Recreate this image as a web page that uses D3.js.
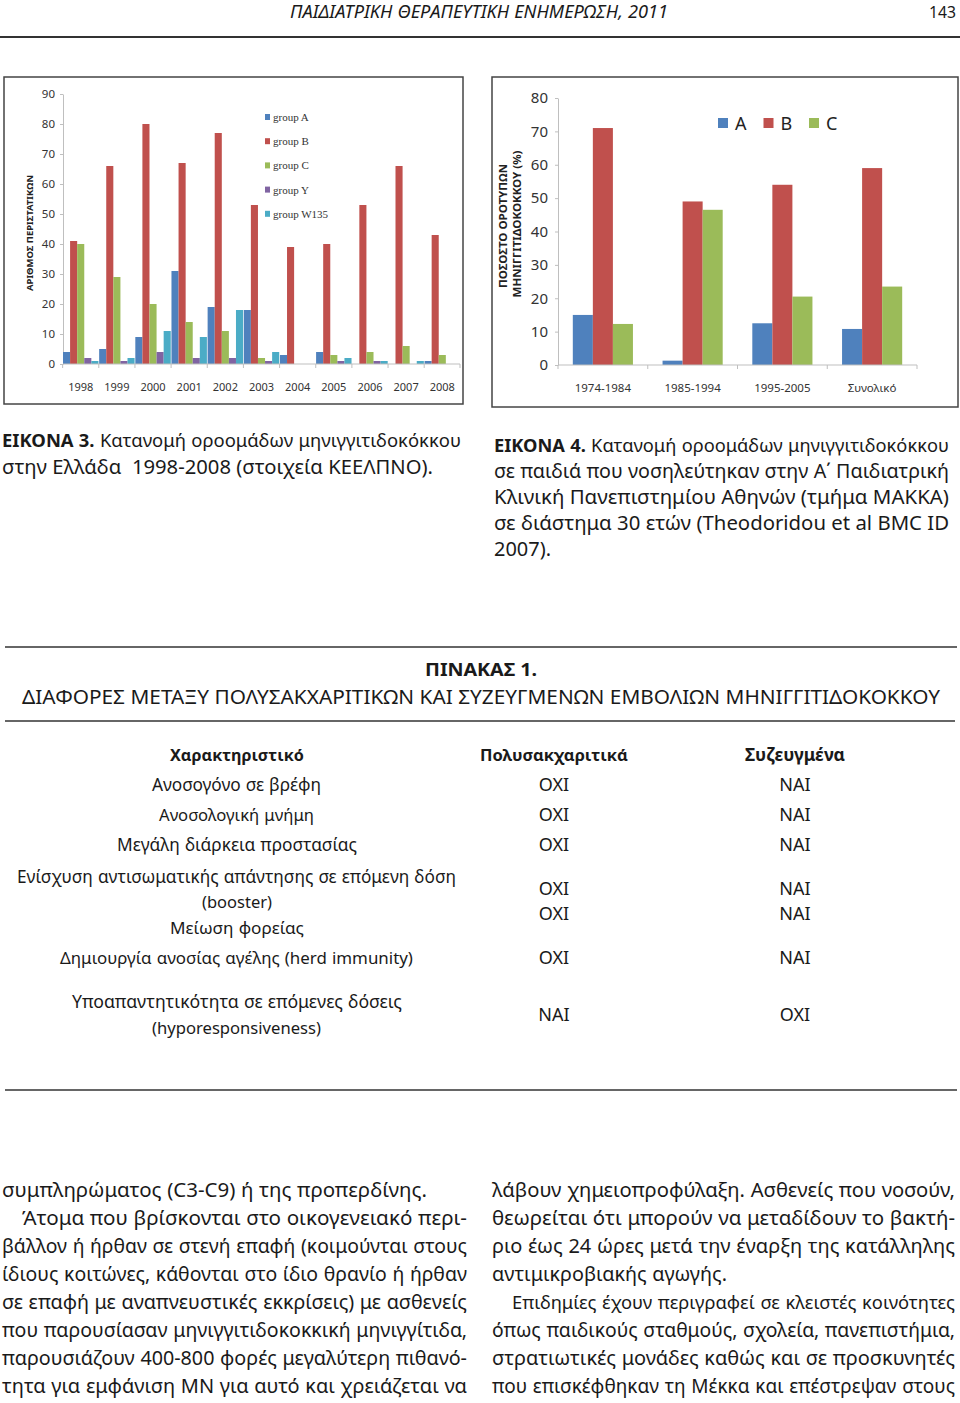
<!DOCTYPE html>
<html>
<head>
<meta charset="utf-8">
<script src="https://cdn.jsdelivr.net/npm/d3@7"></script>
<style>
  body { margin: 0; background: #fff; }
  svg { display: block; font-family: "Noto Sans", sans-serif; }
</style>
</head>
<body>
<script>
// figure 3 data (cases per year, per serogroup)
var years = ["1998", "1999", "2000", "2001", "2002", "2003", "2004", "2005", "2006", "2007", "2008"];
var groups3 = ["group A", "group B", "group C", "group Y", "group W135"];
var groupA = [4, 5, 9, 31, 19, 18, 3, 4, 0, 0, 1];
var groupB = [41, 66, 80, 67, 77, 53, 39, 40, 53, 66, 43];
var groupC = [40, 29, 20, 14, 11, 2, 0, 3, 4, 6, 3];
var groupY = [2, 1, 4, 2, 2, 1, 0, 1, 1, 0, 0];
var groupW = [1, 2, 11, 9, 18, 4, 0, 2, 1, 1, 0];
var ticks3 = [0, 10, 20, 30, 40, 50, 60, 70, 80, 90];

// figure 4 data (% of serogroups per period)
var periods = ["1974-1984", "1985-1994", "1995-2005", "Συνολικό"];
var groups4 = ["A", "B", "C"];
var pctA = [15, 1.3, 12.5, 10.8];
var pctB = [71, 49, 54, 59];
var pctC = [12.3, 46.5, 20.5, 23.5];
var ticks4 = [0, 10, 20, 30, 40, 50, 60, 70, 80];

var colors = ["#4F81BD", "#C0504D", "#9BBB59", "#8064A2", "#4BACC6"];

// table 1
var traits = [
  ["Ανοσογόνο σε βρέφη"],
  ["Ανοσολογική μνήμη"],
  ["Μεγάλη διάρκεια προστασίας"],
  ["Ενίσχυση αντισωματικής απάντησης σε επόμενη δόση", "(booster)"],
  ["Μείωση φορείας"],
  ["Δημιουργία ανοσίας αγέλης (herd immunity)"],
  ["Υποαπαντητικότητα σε επόμενες δόσεις", "(hyporesponsiveness)"]
];
var polysacch = ["ΟΧΙ", "ΟΧΙ", "ΟΧΙ", "ΟΧΙ", "ΟΧΙ", "ΟΧΙ", "ΝΑΙ"];
var conjugate = ["ΝΑΙ", "ΝΑΙ", "ΝΑΙ", "ΝΑΙ", "ΝΑΙ", "ΝΑΙ", "ΟΧΙ"];

var svg = d3.select("body").append("svg")
    .attr("width", 960)
    .attr("height", 1403);

// place a line of words so it spans x0..x1: stretch glyphs a little (or
// shrink the font) and spread the rest over the word gaps, like justified print
function fit(g, str, x0, x1, y, o) {
  o = o || {};
  var size = o.size || 19, nb = o.bold || 0;
  var words = str.split(" ");
  var items = words.map(function(w, i) {
    return g.append("text")
        .attr("y", y)
        .attr("font-size", size)
        .attr("font-weight", (o.weight === "bold" || i < nb) ? "bold" : "normal")
        .attr("font-style", o.italic ? "italic" : null)
        .attr("fill", o.fill || "#1a1a1a")
        .text(w);
  });
  var ws = items.map(function(t) { return t.node().getComputedTextLength(); });
  var n = words.length, total = d3.sum(ws), avail = x1 - x0;
  var gap0 = size * 0.28;
  var k = (avail - gap0 * (n - 1)) / total;
  k = Math.max(0.85, Math.min(o.maxK || 1.1, k));
  var gap = n > 1 ? (avail - total * k) / (n - 1) : 0;
  if (gap < size * 0.2) { gap = size * 0.2; k = (avail - gap * (n - 1)) / total; }
  var x = x0;
  items.forEach(function(t, i) {
    t.attr("x", x);
    if (k < 1) t.attr("font-size", size * k);
    else if (ws[i] > 0 && k > 1.005)
      t.attr("textLength", ws[i] * k).attr("lengthAdjust", "spacingAndGlyphs");
    x += ws[i] * k + gap;
  });
}

function rule(y, x0, x1, w) {
  svg.append("line").attr("x1", x0).attr("x2", x1).attr("y1", y).attr("y2", y)
      .attr("stroke", "#333").attr("stroke-width", w || 1.5);
}

// page header
var head = svg.append("g");
fit(head, "ΠΑΙΔΙΑΤΡΙΚΗ ΘΕΡΑΠΕΥΤΙΚΗ ΕΝΗΜΕΡΩΣΗ, 2011", 290, 668, 18, {size: 18, italic: true});
fit(head, "143", 929, 956, 18, {size: 18});
rule(37, 0, 960, 2);

// ---------- figure 3 ----------
var f3 = svg.append("g");
f3.append("rect").attr("x", 4).attr("y", 77).attr("width", 459).attr("height", 327)
    .attr("fill", "none").attr("stroke", "#444").attr("stroke-width", 1.5);

var series3 = [groupA, groupB, groupC, groupY, groupW];
var x3 = d3.scaleBand().domain(years).range([63, 460]).paddingInner(0.02);
var xs3 = d3.scaleBand().domain(d3.range(groups3.length)).range([0, x3.bandwidth()]);
var y3 = d3.scaleLinear().domain([0, 90]).range([364, 94]);

f3.append("g")
    .attr("transform", "translate(63,0)")
    .call(d3.axisLeft(y3).tickValues(ticks3).tickSize(3).tickSizeOuter(0).tickPadding(5))
    .call(function(g) {
      g.select(".domain").attr("stroke", "#bfbfbf");
      g.selectAll(".tick line").attr("stroke", "#bfbfbf");
      g.selectAll("text").attr("font-size", 11.5).attr("fill", "#333").attr("font-family", "\"Noto Sans\", sans-serif");
    });

years.forEach(function(yr, i) {
  series3.forEach(function(s, j) {
    if (s[i] <= 0) return;
    f3.append("rect")
        .attr("x", x3(yr) + xs3(j))
        .attr("y", y3(s[i]))
        .attr("width", xs3.bandwidth())
        .attr("height", y3(0) - y3(s[i]))
        .attr("fill", colors[j]);
  });
});

f3.append("line").attr("x1", 63).attr("x2", 460).attr("y1", y3(0)).attr("y2", y3(0)).attr("stroke", "#bfbfbf");
years.concat([null]).forEach(function(yr) {
  var xx = yr ? x3(yr) - x3.step() * x3.paddingInner() / 2 : 460;
  f3.append("line").attr("x1", xx).attr("x2", xx).attr("y1", y3(0)).attr("y2", y3(0) + 4).attr("stroke", "#bfbfbf");
});
f3.selectAll(".xl").data(years).enter().append("text")
    .attr("x", function(d) { return x3(d) + x3.bandwidth() / 2; })
    .attr("y", 391)
    .attr("text-anchor", "middle")
    .attr("font-size", 11)
    .attr("fill", "#333")
    .text(function(d) { return d; });

f3.append("text")
    .attr("transform", "translate(33,233) rotate(-90)")
    .attr("text-anchor", "middle")
    .attr("font-size", 9.5).attr("font-weight", "bold").attr("fill", "#222")
    .attr("textLength", 116).attr("lengthAdjust", "spacingAndGlyphs")
    .text("ΑΡΙΘΜΟΣ ΠΕΡΙΣΤΑΤΙΚΩΝ");

var leg3 = f3.selectAll(".leg").data(groups3).enter().append("g")
    .attr("transform", function(d, i) { return "translate(265," + (117 + i * 24.2) + ")"; });
leg3.append("rect").attr("x", 0).attr("y", -3).attr("width", 5).attr("height", 6)
    .attr("fill", function(d, i) { return colors[i]; });
leg3.append("text").attr("x", 8).attr("y", 4).attr("font-size", 11)
    .attr("font-family", "\"Liberation Serif\", serif").attr("fill", "#333")
    .text(function(d) { return d; });

// ---------- figure 4 ----------
var f4 = svg.append("g");
f4.append("rect").attr("x", 492).attr("y", 77).attr("width", 466).attr("height", 330)
    .attr("fill", "none").attr("stroke", "#444").attr("stroke-width", 1.5);

var series4 = [pctA, pctB, pctC];
var x4 = d3.scaleBand().domain(periods).range([558, 917]).paddingInner(0.33).paddingOuter(0.165);
var xs4 = d3.scaleBand().domain(d3.range(groups4.length)).range([0, x4.bandwidth()]);
var y4 = d3.scaleLinear().domain([0, 80]).range([365, 98]);

f4.append("g")
    .attr("transform", "translate(558,0)")
    .call(d3.axisLeft(y4).tickValues(ticks4).tickSize(3).tickSizeOuter(0).tickPadding(7))
    .call(function(g) {
      g.select(".domain").attr("stroke", "#bfbfbf");
      g.selectAll(".tick line").attr("stroke", "#bfbfbf");
      g.selectAll("text").attr("font-size", 15).attr("fill", "#333").attr("font-family", "\"Noto Sans\", sans-serif");
    });

periods.forEach(function(p, i) {
  series4.forEach(function(s, j) {
    f4.append("rect")
        .attr("x", x4(p) + xs4(j))
        .attr("y", y4(s[i]))
        .attr("width", xs4.bandwidth())
        .attr("height", y4(0) - y4(s[i]))
        .attr("fill", colors[j]);
  });
});

f4.append("line").attr("x1", 558).attr("x2", 917).attr("y1", y4(0)).attr("y2", y4(0)).attr("stroke", "#bfbfbf");
d3.range(periods.length + 1).forEach(function(i) {
  var xx = 558 + i * x4.step();
  f4.append("line").attr("x1", xx).attr("x2", xx).attr("y1", y4(0)).attr("y2", y4(0) + 4).attr("stroke", "#bfbfbf");
});
f4.selectAll(".xl").data(periods).enter().append("text")
    .attr("x", function(d) { return x4(d) + x4.bandwidth() / 2; })
    .attr("y", 392)
    .attr("text-anchor", "middle")
    .attr("font-size", 11.5)
    .attr("fill", "#333")
    .text(function(d) { return d; });

f4.append("text")
    .attr("transform", "translate(507,226) rotate(-90)")
    .attr("text-anchor", "middle")
    .attr("font-size", 10.5).attr("font-weight", "bold").attr("fill", "#222")
    .attr("textLength", 124).attr("lengthAdjust", "spacingAndGlyphs")
    .text("ΠΟΣΟΣΤΟ ΟΡΟΤΥΠΩΝ");
f4.append("text")
    .attr("transform", "translate(521,224) rotate(-90)")
    .attr("text-anchor", "middle")
    .attr("font-size", 10.5).attr("font-weight", "bold").attr("fill", "#222")
    .attr("textLength", 147).attr("lengthAdjust", "spacingAndGlyphs")
    .text("ΜΗΝΙΓΓΙΤΙΔΟΚΟΚΚΟΥ (%)");

var leg4 = f4.selectAll(".leg").data(groups4).enter().append("g")
    .attr("transform", function(d, i) { return "translate(" + (718 + i * 45.5) + ",118)"; });
leg4.append("rect").attr("width", 10).attr("height", 10).attr("fill", function(d, i) { return colors[i]; });
leg4.append("text").attr("x", 17).attr("y", 11.5).attr("font-size", 18).attr("fill", "#222")
    .text(function(d) { return d; });

// ---------- captions ----------
var cap = svg.append("g");
fit(cap, "ΕΙΚΟΝΑ 3. Κατανομή οροομάδων μηνιγγιτιδοκόκκου", 2, 461, 447, {bold: 2});
fit(cap, "στην Ελλάδα  1998-2008 (στοιχεία ΚΕΕΛΠΝΟ).", 2, 433, 474);

var cap4 = [
  "ΕΙΚΟΝΑ 4. Κατανομή οροομάδων μηνιγγιτιδοκόκκου",
  "σε παιδιά που νοσηλεύτηκαν στην Α΄ Παιδιατρική",
  "Κλινική Πανεπιστημίου Αθηνών (τμήμα ΜΑΚΚΑ)",
  "σε διάστημα 30 ετών (Theodoridou et al BMC ID",
  "2007)."
];
cap4.forEach(function(s, i) {
  fit(cap, s, 494, i === 4 ? 551 : 949, 452 + i * 26, {bold: i === 0 ? 2 : 0});
});

// ---------- table 1 ----------
var tb = svg.append("g");
rule(647, 5, 957);
fit(tb, "ΠΙΝΑΚΑΣ 1.", 425, 537, 676, {size: 18, weight: "bold"});
fit(tb, "ΔΙΑΦΟΡΕΣ ΜΕΤΑΞΥ ΠΟΛΥΣΑΚΧΑΡΙΤΙΚΩΝ ΚΑΙ ΣΥΖΕΥΓΜΕΝΩΝ ΕΜΒΟΛΙΩΝ ΜΗΝΙΓΓΙΤΙΔΟΚΟΚΚΟΥ", 22, 940, 704, {size: 19.5, maxK: 1.15});
rule(721, 5, 955);

fit(tb, "Χαρακτηριστικό", 170, 304, 761, {size: 18, weight: "bold"});
fit(tb, "Πολυσακχαριτικά", 480, 628, 761, {size: 18, weight: "bold"});
fit(tb, "Συζευγμένα", 745, 845, 761, {size: 18, weight: "bold"});

var rowLines = [[791], [821], [851], [883, 908], [934], [964], [1008, 1034]];
var rowSpan = [[[152, 321]], [[159, 314]], [[117, 357]], [[17, 456], [202, 272]], [[170, 304]], [[60, 413]], [[72, 402], [152, 321]]];
var valueY = [791, 821, 851, 895, 920, 964, 1021];

traits.forEach(function(lines, i) {
  lines.forEach(function(s, k) {
    fit(tb, s, rowSpan[i][k][0], rowSpan[i][k][1], rowLines[i][k], {size: 18});
  });
  tb.append("text").attr("x", 554).attr("y", valueY[i]).attr("text-anchor", "middle")
      .attr("font-size", 18).attr("fill", "#1a1a1a").text(polysacch[i]);
  tb.append("text").attr("x", 795).attr("y", valueY[i]).attr("text-anchor", "middle")
      .attr("font-size", 18).attr("fill", "#1a1a1a").text(conjugate[i]);
});
rule(1090, 5, 957);

// ---------- body text ----------
var body = svg.append("g");
var leftCol = [
  "συμπληρώματος (C3-C9) ή της προπερδίνης.",
  "Άτομα που βρίσκονται στο οικογενειακό περι-",
  "βάλλον ή ήρθαν σε στενή επαφή (κοιμούνται στους",
  "ίδιους κοιτώνες, κάθονται στο ίδιο θρανίο ή ήρθαν",
  "σε επαφή με αναπνευστικές εκκρίσεις) με ασθενείς",
  "που παρουσίασαν μηνιγγιτιδοκοκκική μηνιγγίτιδα,",
  "παρουσιάζουν 400-800 φορές μεγαλύτερη πιθανό-",
  "τητα για εμφάνιση ΜΝ για αυτό και χρειάζεται να"
];
var rightCol = [
  "λάβουν χημειοπροφύλαξη. Ασθενείς που νοσούν,",
  "θεωρείται ότι μπορούν να μεταδίδουν το βακτή-",
  "ριο έως 24 ώρες μετά την έναρξη της κατάλληλης",
  "αντιμικροβιακής αγωγής.",
  "Επιδημίες έχουν περιγραφεί σε κλειστές κοινότητες",
  "όπως παιδικούς σταθμούς, σχολεία, πανεπιστήμια,",
  "στρατιωτικές μονάδες καθώς και σε προσκυνητές",
  "που επισκέφθηκαν τη Μέκκα και επέστρεψαν στους"
];
leftCol.forEach(function(s, i) {
  fit(body, s, i === 1 ? 22 : 2, i === 0 ? 427 : 467, 1197 + i * 28, {size: 20});
});
rightCol.forEach(function(s, i) {
  fit(body, s, i === 4 ? 512 : 492, i === 3 ? 727 : 955, 1197 + i * 28, {size: 20});
});
</script>
</body>
</html>
